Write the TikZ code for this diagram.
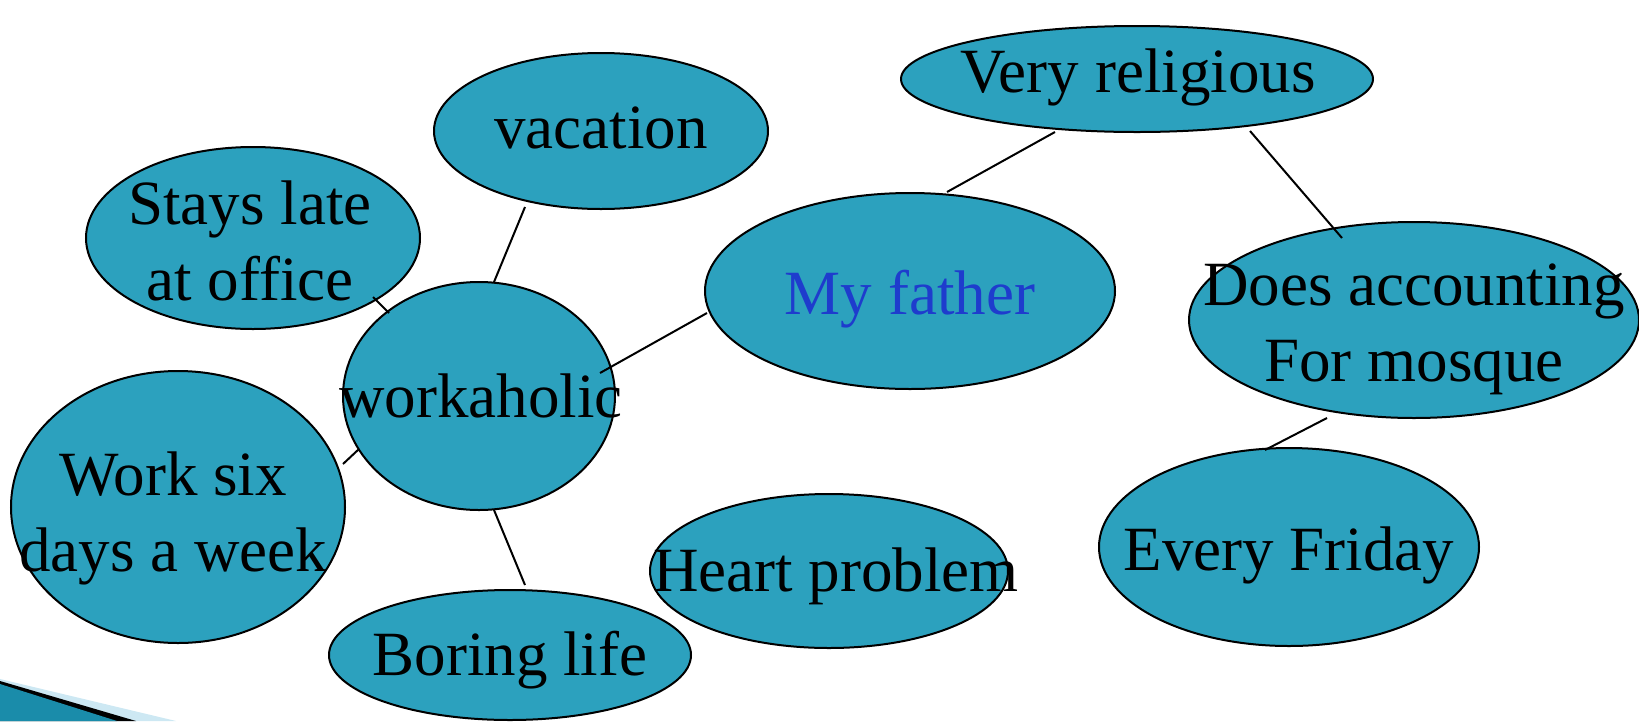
\documentclass[tikz,border=0pt]{standalone}
\usepackage{fontspec}
\setmainfont{Liberation Serif}
\usetikzlibrary{shapes.geometric}
\definecolor{blobfill}{RGB}{44,161,190}
\definecolor{fathertext}{RGB}{30,60,205}
\definecolor{wedgeteal}{RGB}{26,140,170}
\definecolor{wedgelight}{RGB}{205,232,243}
\tikzset{
  blob/.style 2 args={ellipse, draw=black, line width=2pt, fill=blobfill,
    minimum width=#1pt, minimum height=#2pt, inner sep=0pt},
  txt/.style={align=center, inner sep=0pt, font=\fontsize{63}{76}\selectfont},
  link/.style={draw=black, line width=2pt}
}
\begin{document}
\begin{tikzpicture}[x=1pt,y=-1pt]
\useasboundingbox (0,0) rectangle (1639,721);
% corner decoration
\fill[wedgelight] (0,679) -- (176,721) -- (0,721) -- cycle;
\fill[black] (0,681) -- (136,721) -- (0,721) -- cycle;
\fill[wedgeteal] (0,684) -- (117,721) -- (0,721) -- cycle;
% ellipses
\node[blob={334}{156}] (vac) at (601,131) {};
\node[blob={334}{182}] (stay) at (253,238) {};
\node[blob={334}{272}] (six) at (178,507) {};
\node[blob={362}{130}] (bor) at (510,655) {};
\node[blob={358}{154}] (heart) at (829,571) {};
\node[blob={410}{196}] (fath) at (910,291) {};
\node[blob={472}{106}] (rel) at (1137,79) {};
\node[blob={450}{196}] (acc) at (1414,320) {};
\node[blob={380}{198}] (fri) at (1289,547) {};
\node[blob={272}{228}] (work) at (479,396) {};
% connectors
\draw[link] ([shift={(-76,76)}]vac.center) -- ([shift={(15,-114)}]work.center);
\draw[link] ([shift={(120,59)}]stay.center) -- ([shift={(-90,-83)}]work.center);
\draw[link] ([shift={(121,-23)}]work.center) -- ([shift={(-203,22)}]fath.center);
\draw[link] ([shift={(-120,53)}]work.center) -- ([shift={(165,-43)}]six.center);
\draw[link] ([shift={(15,114)}]work.center) -- ([shift={(15,-70)}]bor.center);
\draw[link] ([shift={(37,-99)}]fath.center) -- ([shift={(-82,53)}]rel.center);
\draw[link] ([shift={(113,52)}]rel.center) -- ([shift={(-72,-82)}]acc.center);
\draw[link] ([shift={(-87,98)}]acc.center) -- ([shift={(-24,-97)}]fri.center);
% texts
\node[txt] (vacT) at (601,128) {vacation};
\node[txt] (stayT) at (250,241) {Stays late\\at office};
\node[txt] (workT) at (481,396) {workaholic};
\node[txt] (sixT) at (173,518) {Work six\\days a week};
\node[txt] (borT) at (510,660) {Boring life};
\node[txt] (heartT) at (836,576) {Heart problem};
\node[txt, text=fathertext] (fathT) at (910,299) {My father};
\node[txt] (relT) at (1138,77) {Very religious};
\node[txt] (accT) at (1414,329) {Does accounting\\For mosque};
\node[txt] (friT) at (1289,555) {Every Friday};
\end{tikzpicture}
\end{document}
